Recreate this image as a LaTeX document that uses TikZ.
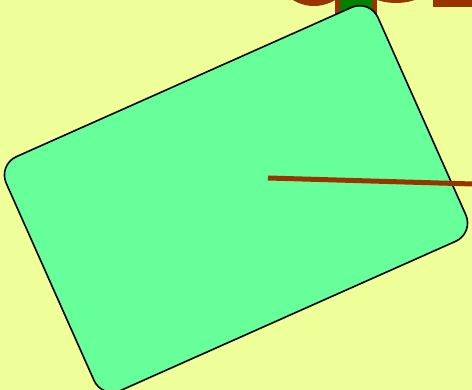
\documentclass[tikz,border=0pt]{standalone}
\usepackage{xcolor}
\usepackage{tikz}
\usetikzlibrary{calc, positioning}
\definecolor{nen}{HTML}{EEFF99}
\definecolor{hopxanh}{HTML}{66FF99}
\definecolor{naudo}{HTML}{993300}
\definecolor{xanhla}{HTML}{008000}

\begin{document}
\begin{tikzpicture}[x=1pt, y=1pt]
    % 1. Nền và khung cắt
    \fill[nen] (0,0) rectangle (472,390);
    \clip (0,0) rectangle (472,390);

    % 2. Các mảnh chữ bị cắt ở mép trên
    \draw[naudo, line width=10pt] (314,424) circle (35);
    \draw[naudo, line width=10pt] (396,448) circle (56);
    \fill[naudo] (433,383) rectangle (480,400);
    \draw[naudo, line width=5pt, fill=xanhla] (337.5,350) rectangle (374.5,400);

    % 3. Hình chữ nhật bo góc bị xoay
    \node[draw, black, line width=1.6pt, fill=hopxanh, rounded corners=20pt,
          minimum width=407pt, minimum height=256pt, rotate=24, inner sep=0pt]
          (hop) at (236,191) {};

    % 4. Đoạn thẳng màu nâu đỏ
    \coordinate (dau) at (268,212);
    \coordinate (cuoi) at (490,205.5);
    \draw[naudo, line width=5pt] (dau) -- (cuoi);
\end{tikzpicture}
\end{document}
